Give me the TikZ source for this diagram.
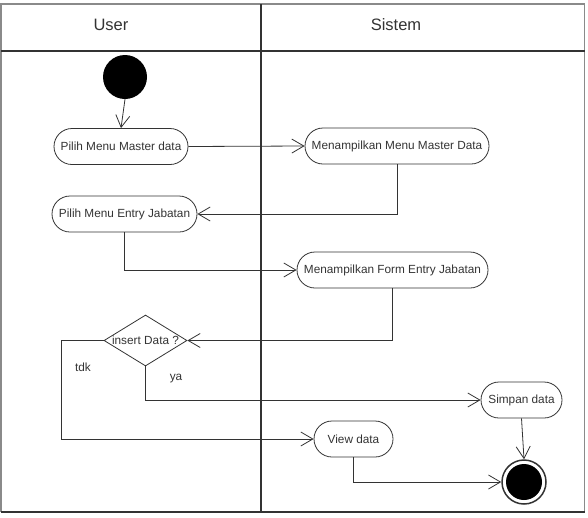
\documentclass[tikz,border=0pt]{standalone}
\usepackage{fontspec}
\setmainfont{Liberation Sans}
\usetikzlibrary{arrows.meta,shapes.geometric}
\definecolor{ln}{HTML}{333333}
\definecolor{frm}{HTML}{8A8A8A}
\tikzset{
  act/.style={draw=ln, line width=0.8pt, rectangle, rounded corners=18pt, minimum height=36pt, inner sep=0pt, font=\fontsize{11.8}{13}\selectfont, text=ln},
  dec/.style={draw=ln, line width=0.8pt, diamond, aspect=1.63, minimum width=83pt, minimum height=51pt, inner sep=0pt, font=\fontsize{11.8}{13}\selectfont, text=ln},
  flow/.style={draw=ln, line width=0.8pt, -{Straight Barb[length=12pt,width=14pt,line width=0.8pt]}},
  lbl/.style={font=\fontsize{11.8}{13}\selectfont, text=ln},
  hdr/.style={font=\fontsize{16.5}{18}\selectfont, text=ln},
}
\begin{document}
\begin{tikzpicture}[x=1pt,y=-1pt]
\useasboundingbox (0,0) rectangle (588,517);
% frame
\draw[frm, line width=1.2pt] (1,4) rectangle (584.5,511.5);
\draw[ln, line width=2pt] (1,51) -- (584.5,51);
\draw[ln, line width=2pt] (261,4) -- (261,511.5);
\draw[ln, line width=2pt] (1,511.5) -- (584.5,511.5);
\node[hdr] (hu) at (111,25) {User};
\node[hdr] (hs) at (396,25) {Sistem};
% nodes
\node[circle, fill=black, minimum size=44pt, inner sep=0pt] (start) at (125,77) {};
\node[act, minimum width=134pt] (pm) at (121,146.5) {Pilih Menu Master data};
\node[act, minimum width=145pt] (pe) at (124.5,214) {Pilih Menu Entry Jabatan};
\node[act, minimum width=184pt] (mm) at (397,146) {Menampilkan Menu Master Data};
\node[act, minimum width=191pt] (mf) at (392.5,270) {Menampilkan Form Entry Jabatan};
\node[dec] (d) at (145.5,340.5) {insert Data ?};
\node[act, minimum width=81pt] (sd) at (521.5,400) {Simpan data};
\node[act, minimum width=79pt] (vd) at (353.5,439) {View data};
\node[circle, draw=ln, line width=1.5pt, minimum size=44pt, inner sep=0pt] (end) at (524,482) {};
\node[circle, fill=black, minimum size=36pt, inner sep=0pt] (endin) at (524,482) {};
\coordinate (tk) at (61,340.5);
% labels
\node[lbl] (ltdk) at (83,367) {tdk};
\node[lbl] (lya) at (176,379) {ya};
% flows
\draw[flow] (start.south) -- (pm.north);
\draw[flow] (pm.east) -- (mm.west);
\draw[flow] (mm.south) |- (pe.east);
\draw[flow] (pe.south) |- (mf.west);
\draw[flow] (mf.south) |- (d.east);
\draw[flow] (d.west) -- (tk) |- (vd.west);
\draw[flow] (d.south) |- (sd.west);
\draw[flow] (sd.south) -- (end.north);
\draw[flow] (vd.south) |- (end.west);
\end{tikzpicture}
\end{document}
